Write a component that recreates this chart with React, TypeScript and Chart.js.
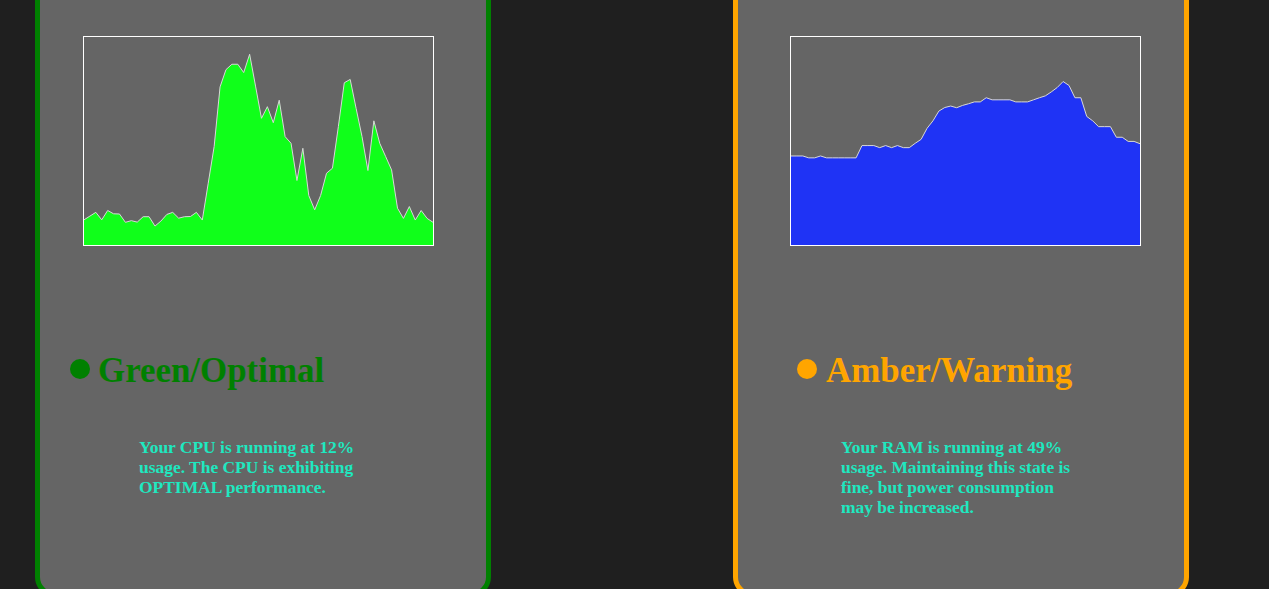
import { useEffect, useRef } from "react"
import Chart from "chart.js/auto"

// CPU usage samples (%), oldest first
const cpuUsage = [
  12.1, 13.9, 15.7, 12.1, 16.6, 15.0, 14.9, 10.9, 11.7, 11.0,
  13.6, 13.6, 9.1, 11.5, 14.7, 15.7, 12.9, 13.6, 13.7, 15.7,
  12.0, 29.7, 47.3, 76.0, 84.3, 86.9, 86.9, 82.9, 91.7, 76.4,
  60.9, 66.5, 58.8, 69.6, 52.1, 48.9, 31.0, 46.5, 23.8, 16.9,
  23.8, 34.5, 36.9, 56.9, 78.0, 79.6, 65.7, 52.1, 35.8, 59.7,
  48.9, 42.5, 36.1, 17.7, 12.8, 18.5, 12.0, 16.6, 12.8, 10.9,
]

// RAM usage samples (%), oldest first
const ramUsage = [
  42.8, 42.8, 42.8, 41.9, 41.9, 42.8, 41.9, 41.9, 41.9, 41.9,
  41.9, 41.9, 47.8, 47.8, 47.8, 46.8, 47.8, 46.8, 47.8, 46.8,
  46.8, 48.9, 50.8, 56.1, 59.7, 64.4, 66.1, 66.8, 66.0, 67.1,
  67.9, 68.8, 68.8, 70.8, 69.8, 69.8, 69.8, 69.8, 68.8, 68.8,
  68.8, 69.8, 70.8, 71.7, 73.6, 75.7, 78.6, 76.7, 70.8, 70.8,
  61.8, 59.7, 56.9, 56.9, 56.9, 51.8, 51.8, 49.8, 49.8, 48.7,
]

const cpuText = ["Your CPU is running at 12%", "usage. The CPU is exhibiting", "OPTIMAL performance."]
const ramText = [
  "Your RAM is running at 49%",
  "usage. Maintaining this state is",
  "fine, but power consumption",
  "may be increased.",
]

const serif = '"Liberation Serif", "Times New Roman", serif'

function UsageChart({ values, fill }: { values: number[]; fill: string }) {
  const chartRef = useRef<HTMLCanvasElement>(null)
  const chartInstance = useRef<Chart | null>(null)

  useEffect(() => {
    if (!chartRef.current) return
    if (chartInstance.current) chartInstance.current.destroy()

    chartInstance.current = new Chart(chartRef.current, {
      type: "line",
      data: {
        labels: values.map((_, i) => i),
        datasets: [
          {
            data: values,
            fill: "origin",
            backgroundColor: fill,
            borderColor: "#d8d8d8",
            borderWidth: 1,
            pointRadius: 0,
            tension: 0,
          },
        ],
      },
      options: {
        animation: false,
        responsive: true,
        maintainAspectRatio: false,
        layout: { padding: 0 },
        plugins: { legend: { display: false }, tooltip: { enabled: false } },
        scales: {
          x: { display: false, offset: false },
          y: { display: false, min: 0, max: 100 },
        },
      },
    })

    return () => {
      if (chartInstance.current) {
        chartInstance.current.destroy()
        chartInstance.current = null
      }
    }
  }, [values, fill])

  return (
    <div style={{ width: 349, height: 208, border: "1px solid #fff", position: "relative" }}>
      <canvas ref={chartRef} />
    </div>
  )
}

function Card({
  left,
  color,
  chartLeft,
  dotLeft,
  titleLeft,
  textLeft,
  title,
  lines,
  values,
  fill,
}: {
  left: number
  color: string
  chartLeft: number
  dotLeft: number
  titleLeft: number
  textLeft: number
  title: string
  lines: string[]
  values: number[]
  fill: string
}) {
  return (
    <div
      style={{
        position: "absolute",
        left,
        top: -40,
        width: 456,
        height: 637,
        boxSizing: "border-box",
        border: `5px solid ${color}`,
        borderRadius: 20,
        background: "#656565",
      }}
    >
      <div style={{ position: "absolute", left: chartLeft, top: 71 }}>
        <UsageChart values={values} fill={fill} />
      </div>
      <div
        style={{
          position: "absolute",
          left: dotLeft,
          top: 394,
          width: 20,
          height: 20,
          borderRadius: "50%",
          background: color,
        }}
      />
      <div
        style={{
          position: "absolute",
          left: titleLeft,
          top: 388,
          fontFamily: serif,
          fontWeight: "bold",
          fontSize: 34.9,
          lineHeight: "35px",
          color,
          whiteSpace: "nowrap",
        }}
      >
        {title}
      </div>
      <div
        style={{
          position: "absolute",
          left: textLeft,
          top: 472,
          fontFamily: serif,
          fontWeight: "bold",
          fontSize: 17.45,
          lineHeight: "20px",
          color: "#1ee8c0",
          whiteSpace: "nowrap",
        }}
      >
        {lines.map((l, i) => (
          <div key={i}>{l}</div>
        ))}
      </div>
    </div>
  )
}

export default function App() {
  return (
    <div style={{ position: "fixed", inset: 0, background: "#1f1f1f", overflow: "hidden" }}>
      <Card
        left={35}
        color="#008000"
        chartLeft={43}
        dotLeft={30}
        titleLeft={58}
        textLeft={99}
        title="Green/Optimal"
        lines={cpuText}
        values={cpuUsage}
        fill="#10ff1a"
      />
      <Card
        left={733}
        color="#ffa500"
        chartLeft={52}
        dotLeft={59}
        titleLeft={88}
        textLeft={103}
        title="Amber/Warning"
        lines={ramText}
        values={ramUsage}
        fill="#1f33f5"
      />
    </div>
  )
}
